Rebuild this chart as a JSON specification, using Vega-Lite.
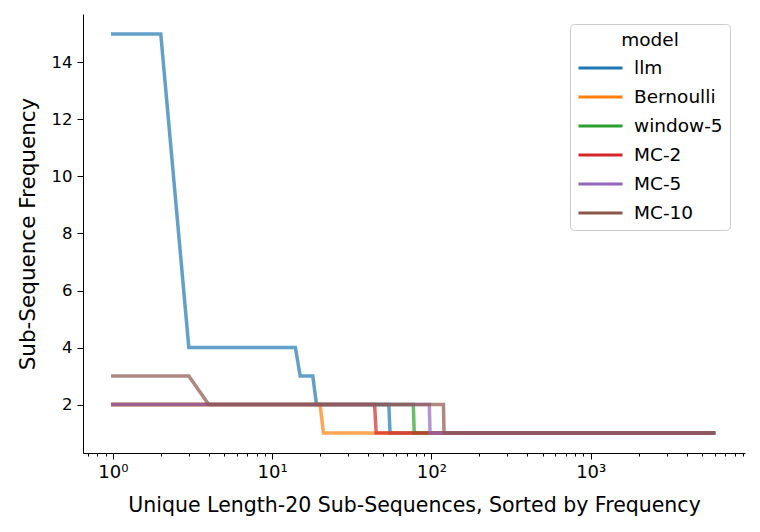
{
  "$schema": "https://vega.github.io/schema/vega-lite/v6.json",
  "autosize": "none",
  "width": 662,
  "height": 439,
  "padding": {"left": 83, "top": 14, "right": 15, "bottom": 79},
  "background": "white",
  "config": {
    "view": {"stroke": null},
    "font": "DejaVu Sans",
    "axis": {
      "grid": false,
      "domainColor": "black",
      "tickColor": "black",
      "labelColor": "black",
      "titleColor": "black",
      "labelFont": "DejaVu Sans",
      "titleFont": "DejaVu Sans",
      "titleFontWeight": "normal",
      "labelFontSize": 16.5,
      "titleFontSize": 20.5
    }
  },
  "data": {
    "values": [
      {"model": "llm", "rank": 1, "freq": 15},
      {"model": "llm", "rank": 2, "freq": 15},
      {"model": "llm", "rank": 3, "freq": 4},
      {"model": "llm", "rank": 14, "freq": 4},
      {"model": "llm", "rank": 15, "freq": 3},
      {"model": "llm", "rank": 18, "freq": 3},
      {"model": "llm", "rank": 19, "freq": 2},
      {"model": "llm", "rank": 54, "freq": 2},
      {"model": "llm", "rank": 55, "freq": 1},
      {"model": "llm", "rank": 5900, "freq": 1},
      {"model": "Bernoulli", "rank": 1, "freq": 2},
      {"model": "Bernoulli", "rank": 20, "freq": 2},
      {"model": "Bernoulli", "rank": 21, "freq": 1},
      {"model": "Bernoulli", "rank": 5900, "freq": 1},
      {"model": "window-5", "rank": 1, "freq": 2},
      {"model": "window-5", "rank": 77, "freq": 2},
      {"model": "window-5", "rank": 78, "freq": 1},
      {"model": "window-5", "rank": 5900, "freq": 1},
      {"model": "MC-2", "rank": 1, "freq": 2},
      {"model": "MC-2", "rank": 44, "freq": 2},
      {"model": "MC-2", "rank": 45, "freq": 1},
      {"model": "MC-2", "rank": 5900, "freq": 1},
      {"model": "MC-5", "rank": 1, "freq": 2},
      {"model": "MC-5", "rank": 97, "freq": 2},
      {"model": "MC-5", "rank": 98, "freq": 1},
      {"model": "MC-5", "rank": 5900, "freq": 1},
      {"model": "MC-10", "rank": 1, "freq": 3},
      {"model": "MC-10", "rank": 3, "freq": 3},
      {"model": "MC-10", "rank": 4, "freq": 2},
      {"model": "MC-10", "rank": 119, "freq": 2},
      {"model": "MC-10", "rank": 120, "freq": 1},
      {"model": "MC-10", "rank": 5900, "freq": 1}
    ]
  },
  "mark": {"type": "line", "strokeWidth": 3.5, "opacity": 0.7, "strokeCap": "square"},
  "encoding": {
    "x": {
      "field": "rank",
      "type": "quantitative",
      "scale": {"type": "log", "domain": [0.65, 9300], "nice": false},
      "title": "Unique Length-20 Sub-Sequences, Sorted by Frequency",
      "axis": {
        "values": [0.7, 0.8, 0.9, 1, 2, 3, 4, 5, 6, 7, 8, 9, 10, 20, 30, 40, 50, 60, 70, 80, 90, 100, 200, 300, 400, 500, 600, 700, 800, 900, 1000, 2000, 3000, 4000, 5000, 6000, 7000, 8000, 9000],
        "labelExpr": "datum.value == 1 ? '10⁰' : datum.value == 10 ? '10¹' : datum.value == 100 ? '10²' : datum.value == 1000 ? '10³' : ''",
        "tickSize": {"condition": {"test": "datum.value == 1 || datum.value == 10 || datum.value == 100 || datum.value == 1000", "value": 6}, "value": 3},
        "labelFontSize": 18,
        "labelPadding": 4,
        "titlePadding": 14,
        "labelFlush": false,
        "labelOverlap": false
      }
    },
    "y": {
      "field": "freq",
      "type": "quantitative",
      "scale": {"domain": [0.3, 15.7], "nice": false, "zero": false},
      "title": "Sub-Sequence Frequency",
      "axis": {"values": [2, 4, 6, 8, 10, 12, 14], "tickSize": 6, "labelPadding": 5, "titlePadding": 12, "titleFontSize": 21.5}
    },
    "color": {
      "field": "model",
      "type": "nominal",
      "scale": {
        "domain": ["llm", "Bernoulli", "window-5", "MC-2", "MC-5", "MC-10"],
        "range": ["#1f77b4", "#ff7f0e", "#2ca02c", "#d62728", "#9467bd", "#8c564b"]
      },
      "legend": {
        "orient": "none",
        "legendX": 487,
        "legendY": 10,
        "title": "model",
        "titleFontSize": 18.5,
        "titleFontWeight": "normal",
        "titleColor": "black",
        "titleAnchor": "middle",
        "titleAlign": "center",
        "titlePadding": 6,
        "labelFontSize": 18.5,
        "labelColor": "black",
        "symbolType": "M-1,0H3",
        "symbolSize": 484,
        "symbolStrokeWidth": 3,
        "symbolOpacity": 1,
        "symbolFillColor": "transparent",
        "rowPadding": 7,
        "labelOffset": 32,
        "padding": 7,
        "strokeColor": "#cccccc",
        "fillColor": "white",
        "cornerRadius": 4
      }
    },
    "order": {"field": "rank", "type": "quantitative"}
  }
}
